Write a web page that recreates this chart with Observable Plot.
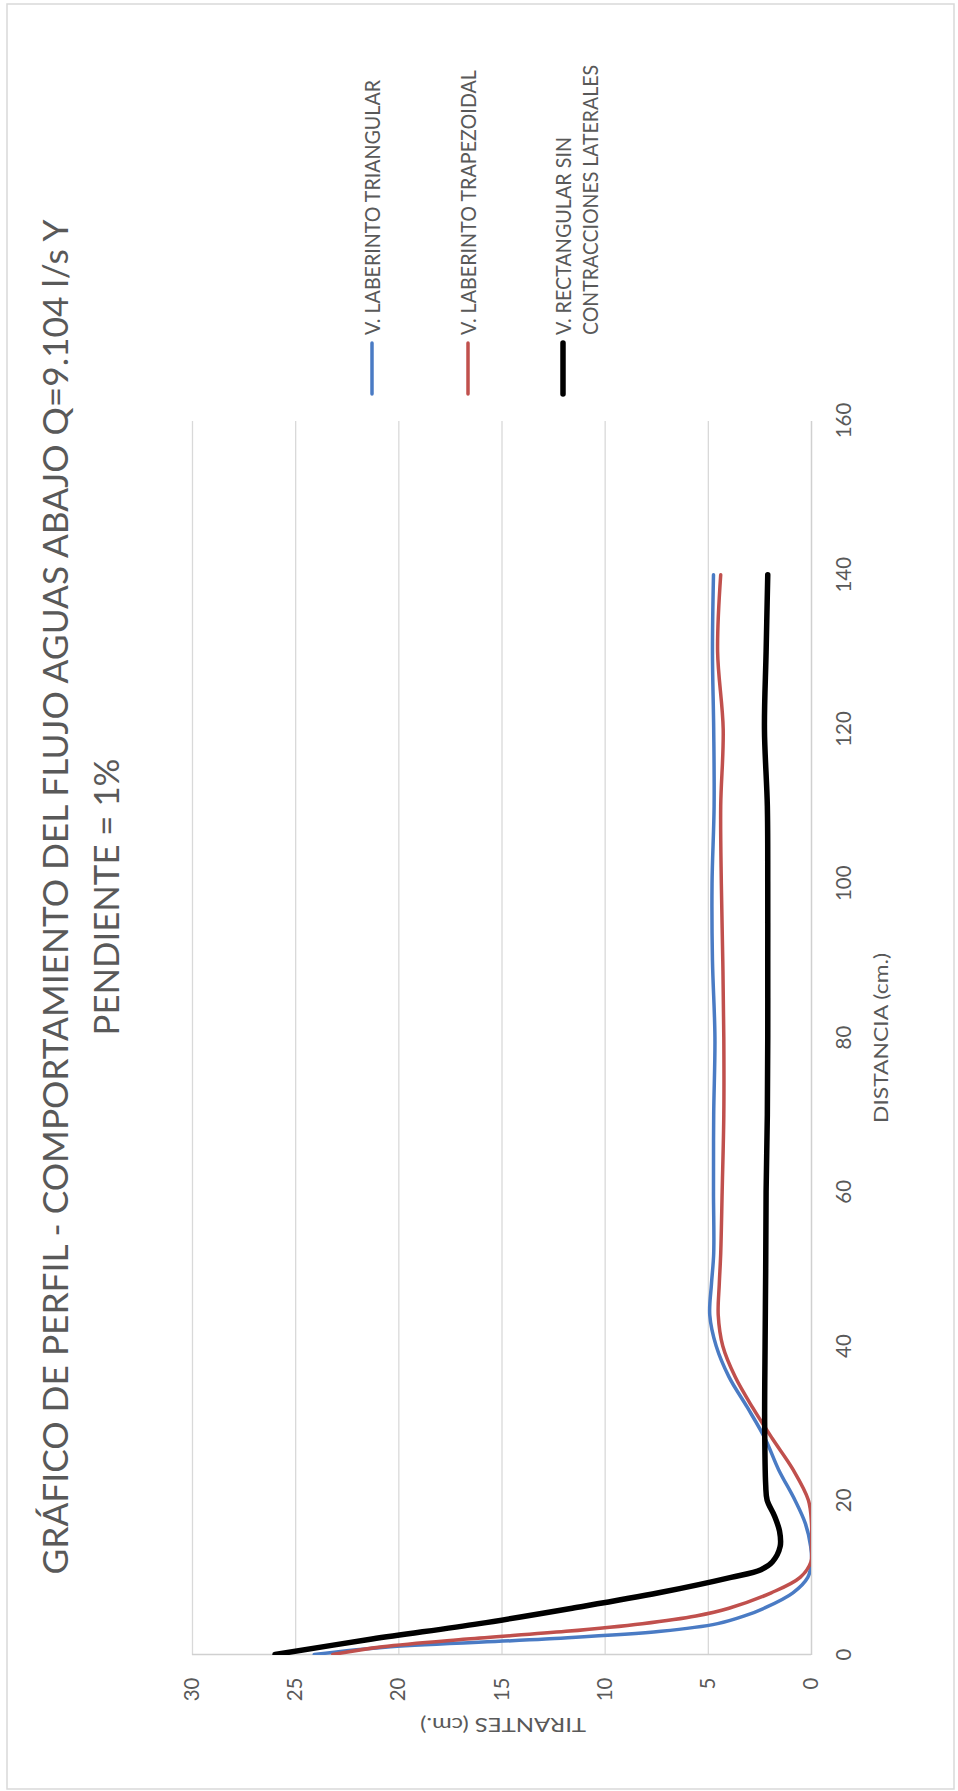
<!DOCTYPE html>
<html><head><meta charset="utf-8">
<script src="https://cdn.jsdelivr.net/npm/d3@7"></script>
<script src="https://cdn.jsdelivr.net/npm/@observablehq/plot@0.6"></script>
<style>
html,body{margin:0;padding:0;background:#fff;width:958px;height:1791px;overflow:hidden;}
#frame{position:absolute;left:0;top:0;width:1791px;height:958px;transform-origin:0 0;transform:translate(0px,1791px) rotate(-90deg);font-family:Lato,"Open Sans",sans-serif;}
#frame > svg{position:absolute;left:0;top:0;}
</style></head><body><div id="frame"></div>
<script>
// ---- data (distance in cm, depth "tirante" in cm) ----
const titleLine1 = "GRÁFICO DE PERFIL - COMPORTAMIENTO DEL FLUJO AGUAS ABAJO Q=9.104 l/s Y";
const titleLine2 = "PENDIENTE = 1%";
const xTitle = "DISTANCIA (cm.)";
const yTitle = "TIRANTES (cm.)";
const seriesNames = ["V. LABERINTO TRIANGULAR", "V. LABERINTO TRAPEZOIDAL", "V. RECTANGULAR SIN CONTRACCIONES LATERALES"];
const seriesColors = ["#4a7bc4", "#c0504d", "#000000"];
const distTicks = [0, 20, 40, 60, 80, 100, 120, 140, 160];
const tirTicks = [0, 5, 10, 15, 20, 25, 30];

const distBlue = [0,1,2,3,4,5,6,8,10,12,14,17,20,24,28,32,36,40,44,48,52,60,70,80,90,100,110,120,130,140];
const tirBlue  = [24.1,20.4,12.9,7.3,4.55,3.25,2.3,0.9,0.18,0.0,0.04,0.3,0.8,1.6,2.25,3.1,4.0,4.62,4.93,4.85,4.74,4.75,4.74,4.68,4.8,4.82,4.72,4.74,4.8,4.75];

const distRed = [0,1,2,3,4,5,6,8,10,12,14,17,20,24,28,32,36,40,44,48,52,60,70,80,90,100,110,120,130,140];
const tirRed  = [23.2,20.8,16.7,11.9,8.2,5.6,4.0,1.95,0.55,0.03,0.0,0.0,0.15,0.9,1.9,2.85,3.7,4.3,4.52,4.47,4.4,4.33,4.25,4.25,4.3,4.37,4.4,4.28,4.55,4.4];

const distBlack = [0,2,4,6,8,10,11,12,14,16,18,20,22,30,40,50,60,70,80,90,100,110,120,130,140];
const tirBlack  = [26.0,21.3,16.1,11.6,7.4,3.9,2.45,1.9,1.52,1.55,1.8,2.15,2.22,2.27,2.25,2.22,2.2,2.14,2.12,2.12,2.12,2.14,2.28,2.2,2.12];

const toRows = (ds, ts) => ds.map((d, i) => ({d, t: ts[i]}));
const rowsBlue = toRows(distBlue, tirBlue);
const rowsRed = toRows(distRed, tirRed);
const rowsBlack = toRows(distBlack, tirBlack);

const W = 1791, H = 958;
const chart = Plot.plot({
  width: W, height: H,
  marginLeft: 136, marginRight: 421, marginTop: 192, marginBottom: 147,
  style: {fontFamily: "Lato, 'Open Sans', sans-serif", fontSize: "20.5px", color: "#595959", background: "transparent", overflow: "visible"},
  x: {domain: [0, 160], ticks: distTicks, tickSize: 0, tickPadding: 25, label: null},
  y: {domain: [0, 30], ticks: tirTicks, tickSize: 0, tickPadding: 23, label: null},
  marks: [
    Plot.gridY(tirTicks.filter(t => t > 0), {stroke: "#d9d9d9", strokeOpacity: 1, strokeWidth: 1.3}),
    Plot.ruleY([0], {stroke: "#d0d0d0", strokeWidth: 1.5}),
    Plot.ruleX([0], {stroke: "#d0d0d0", strokeWidth: 1.5}),
    Plot.line(rowsBlue, {x: "d", y: "t", stroke: seriesColors[0], strokeWidth: 3.5, curve: "catmull-rom", clip: true}),
    Plot.line(rowsRed, {x: "d", y: "t", stroke: seriesColors[1], strokeWidth: 3.5, curve: "catmull-rom", clip: true}),
    Plot.line(rowsBlack, {x: "d", y: "t", stroke: seriesColors[2], strokeWidth: 5.5, curve: "catmull-rom", clip: true})
  ]
});
const frame = document.getElementById("frame");
frame.appendChild(chart);

// ---- overlay: border, title, legend, axis titles ----
const ov = d3.create("svg").attr("width", W).attr("height", H).style("pointer-events", "none")
  .style("font-family", "Lato, 'Open Sans', sans-serif");
ov.append("rect").attr("x", 2).attr("y", 7).attr("width", 1785).attr("height", 947)
  .attr("fill", "none").attr("stroke", "#d9d9d9").attr("stroke-width", 1.5);

function txt(s, x, y, size, len, opts = {}) {
  const t = ov.append("text").attr("x", x).attr("y", y).attr("fill", "#595959")
    .attr("font-size", size).attr("textLength", len).attr("lengthAdjust", "spacingAndGlyphs")
    .attr("text-anchor", opts.anchor || "start").text(s);
  if (opts.weight) t.attr("font-weight", opts.weight);
  if (opts.rotate) t.attr("transform", `rotate(${opts.rotate},${x},${y})`);
  return t;
}
// title
txt(titleLine1, 894, 68, 34, 1355, {anchor: "middle", weight: 400});
txt(titleLine2, 894, 119, 34, 277, {anchor: "middle", weight: 400});
// axis titles
txt(xTitle, 753, 888, 20, 170, {anchor: "middle"});
txt(yTitle, 73, 503, 20, 166, {anchor: "middle", rotate: -90});
// legend
const legY = [372, 468, 563];
const legLens = [[255], [265], [198, 270]];
const legLines = [[seriesNames[0]], [seriesNames[1]], ["V. RECTANGULAR SIN", "CONTRACCIONES LATERALES"]];
const legWidths = [3.5, 3.5, 5.5];
legY.forEach((y, i) => {
  ov.append("line").attr("x1", 1397).attr("x2", 1448).attr("y1", y).attr("y2", y)
    .attr("stroke", seriesColors[i]).attr("stroke-width", legWidths[i]).attr("stroke-linecap", "round");
  legLines[i].forEach((s, j) => txt(s, 1456, y + 7.5 + j * 27.5, 20.5, legLens[i][j]));
});
frame.appendChild(ov.node());
</script></body></html>
